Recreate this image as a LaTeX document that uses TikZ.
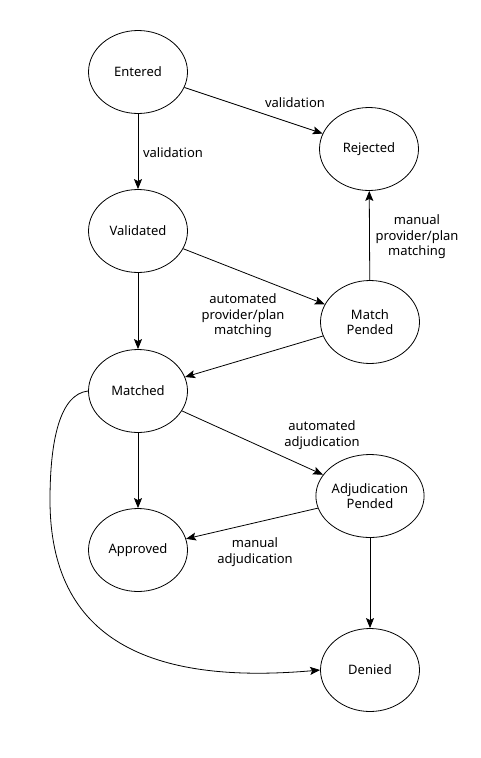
\documentclass[tikz,border=0pt]{standalone}
\usepackage{fontspec}
\setmainfont{Noto Sans}
\usetikzlibrary{shapes.geometric,arrows.meta}
\begin{document}
\begin{tikzpicture}[x=1pt,y=-1pt,
  state/.style={draw,ellipse,line width=0.8pt,minimum width=99pt,minimum height=83pt,inner sep=0pt,align=center,font=\fontsize{13}{15.5}\selectfont},
  lbl/.style={align=center,inner sep=0pt,font=\fontsize{13}{15.5}\selectfont},
  conn/.style={line width=0.8pt,-{Stealth[length=10pt,width=8pt,inset=2pt]}}]
\useasboundingbox (0,0) rectangle (480,758);
\node[state] (entered) at (138,72) {Entered};
\node[state] (rejected) at (369,149) {Rejected};
\node[state] (validated) at (138,231) {Validated};
\node[state] (matchp) at (370,322) {Match\\Pended};
\node[state] (matched) at (138,391) {Matched};
\node[state] (adjp) at (370,496) {Adjudication\\Pended};
\node[state] (approved) at (138,550) {Approved};
\node[state] (denied) at (370,670) {Denied};

\draw[conn] (entered) -- (rejected);
\draw[conn] (entered) -- (validated);
\draw[conn] (validated) -- (matchp);
\draw[conn] (validated) -- (matched);
\draw[conn] (matchp) -- (rejected);
\draw[conn] (matchp) -- (matched);
\draw[conn] (matched) -- (adjp);
\draw[conn] (matched) -- (approved);
\draw[conn] (adjp) -- (approved);
\draw[conn] (adjp) -- (denied);
\draw[conn] (matched.west) .. controls (60,394) and (50,440) .. (50,500) .. controls (50,640) and (150,685) .. (denied.west);

\node[lbl] (l1) at (295,103) {validation};
\node[lbl] (l2) at (173,153) {validation};
\node[lbl] (l3) at (243,316) {automated\\provider/plan\\matching};
\node[lbl] (l4) at (417,237) {manual\\provider/plan\\matching};
\node[lbl] (l5) at (322,435) {automated\\adjudication};
\node[lbl] (l6) at (255,552) {manual\\adjudication};
\end{tikzpicture}
\end{document}
